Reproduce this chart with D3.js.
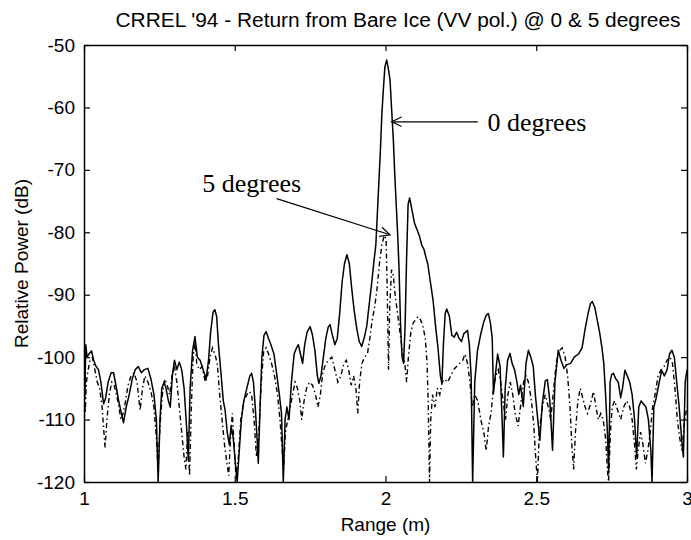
<!DOCTYPE html>
<html>
<head>
<meta charset="utf-8">
<script src="https://cdn.jsdelivr.net/npm/d3@7"></script>
<style>
  html, body { margin: 0; padding: 0; background: #fff; }
  svg { display: block; }
</style>
</head>
<body>
<svg id="chart" width="691" height="540"></svg>
<script>
// ---------- DATA ----------
const titleText = "CRREL '94 - Return from Bare Ice (VV pol.) @ 0 & 5 degrees";
const xLabel = "Range (m)";
const yLabel = "Relative Power (dB)";
const xTicks = [1, 1.5, 2, 2.5, 3];
const xTickLabels = ["1", "1.5", "2", "2.5", "3"];
const yTicks = [-50, -60, -70, -80, -90, -100, -110, -120];
const yTickLabels = ["-50", "-60", "-70", "-80", "-90", "-100", "-110", "-120"];
const seriesNames = ["0 degrees", "5 degrees"];

// 0 degrees (solid)
const range0 = [1.000,1.003,1.006,1.010,1.016,1.025,1.032,1.040,1.048,1.056,1.065,1.072,1.080,1.090,1.098,1.106,1.115,1.124,1.131,1.140,1.150,1.160,1.170,1.180,1.190,1.200,1.212,1.222,1.232,1.240,1.246,1.252,1.258,1.266,1.272,1.280,1.286,1.293,1.300,1.308,1.316,1.324,1.332,1.340,1.346,1.352,1.360,1.368,1.376,1.385,1.395,1.405,1.413,1.420,1.428,1.434,1.440,1.446,1.455,1.462,1.468,1.475,1.482,1.488,1.495,1.502,1.508,1.515,1.522,1.530,1.540,1.550,1.556,1.562,1.568,1.574,1.578,1.584,1.590,1.597,1.604,1.612,1.620,1.630,1.640,1.648,1.655,1.661,1.667,1.673,1.680,1.688,1.697,1.705,1.711,1.718,1.725,1.732,1.740,1.750,1.758,1.766,1.774,1.779,1.786,1.794,1.802,1.810,1.816,1.824,1.832,1.840,1.848,1.856,1.864,1.872,1.880,1.888,1.896,1.905,1.913,1.921,1.930,1.938,1.946,1.954,1.962,1.968,1.973,1.978,1.983,1.988,1.993,1.998,2.004,2.010,2.015,2.020,2.026,2.031,2.036,2.041,2.045,2.050,2.055,2.060,2.065,2.070,2.075,2.080,2.088,2.096,2.104,2.112,2.120,2.128,2.134,2.140,2.146,2.152,2.158,2.166,2.174,2.182,2.187,2.192,2.198,2.203,2.212,2.220,2.228,2.236,2.244,2.252,2.260,2.266,2.272,2.278,2.284,2.289,2.296,2.305,2.315,2.325,2.334,2.341,2.348,2.354,2.358,2.364,2.372,2.380,2.386,2.391,2.397,2.405,2.413,2.420,2.428,2.436,2.442,2.448,2.457,2.466,2.474,2.482,2.490,2.497,2.503,2.512,2.520,2.530,2.537,2.545,2.554,2.562,2.573,2.582,2.592,2.602,2.614,2.626,2.640,2.652,2.662,2.672,2.680,2.686,2.694,2.702,2.710,2.718,2.724,2.730,2.736,2.740,2.745,2.750,2.756,2.764,2.772,2.780,2.786,2.794,2.802,2.810,2.818,2.826,2.833,2.840,2.848,2.856,2.864,2.872,2.880,2.884,2.890,2.898,2.908,2.916,2.925,2.934,2.942,2.950,2.958,2.966,2.974,2.982,2.988,2.994,3.000];
const power0 = [-97,-106,-98,-100,-99.5,-99,-100.5,-101.5,-102,-104,-107.5,-106.5,-104,-102.5,-102.5,-104.5,-107,-109,-110.5,-108,-106,-103.5,-102,-101.5,-102.5,-102,-101.8,-103.5,-106,-110,-120,-110,-105,-104,-105,-107,-108,-103,-100.5,-102,-100.8,-102,-105,-111,-116.5,-105,-99,-96.7,-100,-100.5,-102,-103.5,-100.5,-96,-92.8,-92.4,-93.5,-98,-103,-107,-108.5,-112,-114,-111,-113,-117,-120,-115,-110,-107,-105,-103,-102.6,-104,-108,-113,-117,-108,-100,-96.5,-95.9,-97,-98,-99.5,-103,-106,-109,-120,-110,-108,-110,-104,-99.5,-98.5,-98,-99.5,-101,-98,-96,-95.1,-96.5,-99,-103,-104.2,-103,-100,-97,-95.2,-94.8,-96.5,-98,-97,-93,-88,-85,-83.6,-85,-89,-92.5,-95.5,-97.5,-98.3,-96.8,-95,-91.5,-88.2,-84.5,-82,-77,-72,-67,-61,-57,-53.5,-52.4,-54,-55.6,-60,-65.2,-71,-76,-81,-86,-95,-100,-101,-95,-84,-75.5,-74.5,-76.5,-78.5,-79.5,-80.5,-82,-82.8,-84,-85,-87,-89,-91,-95,-98.5,-103,-104.2,-98,-93,-92.3,-93.5,-96.5,-96.8,-96,-97,-97.5,-96.2,-96,-95.7,-98,-103,-120,-104,-99,-96.5,-94.5,-93.3,-93,-94.5,-97,-105.8,-103,-99.5,-101.5,-109,-116,-105,-100.5,-99.4,-101,-102,-104,-106,-104.5,-107.9,-101,-98.9,-100,-101.5,-106,-109,-113.3,-107.5,-103.8,-103.6,-107,-114.9,-104,-98.9,-100.5,-101.8,-101.2,-101,-100,-99.5,-98.5,-95.5,-93,-91.4,-91.1,-92,-94,-96,-98.5,-101,-106,-112,-118.6,-104,-102.8,-102.6,-103.5,-104,-106.5,-105,-102.1,-103,-104,-106,-110,-116,-108,-107,-107.5,-108,-110,-115,-120,-108,-106.5,-104,-102.1,-103,-102,-99.5,-98.9,-100,-104,-108,-113,-116,-104,-102];

// 5 degrees (dash-dot)
const range5 = [1.000,1.004,1.008,1.014,1.020,1.028,1.036,1.044,1.052,1.060,1.066,1.070,1.076,1.084,1.092,1.100,1.108,1.116,1.122,1.130,1.138,1.146,1.156,1.166,1.176,1.186,1.194,1.202,1.212,1.222,1.232,1.240,1.246,1.252,1.260,1.268,1.276,1.284,1.292,1.300,1.308,1.316,1.324,1.332,1.338,1.344,1.350,1.356,1.362,1.368,1.374,1.382,1.392,1.402,1.410,1.418,1.426,1.434,1.442,1.450,1.458,1.466,1.474,1.480,1.486,1.492,1.498,1.504,1.512,1.520,1.530,1.540,1.548,1.556,1.564,1.572,1.580,1.588,1.596,1.604,1.612,1.622,1.632,1.642,1.650,1.656,1.662,1.668,1.676,1.684,1.692,1.700,1.708,1.716,1.722,1.730,1.738,1.748,1.758,1.768,1.776,1.784,1.792,1.802,1.812,1.822,1.832,1.842,1.852,1.862,1.870,1.878,1.886,1.894,1.902,1.908,1.914,1.922,1.930,1.940,1.948,1.956,1.964,1.972,1.980,1.988,1.996,2.002,2.006,2.010,2.014,2.020,2.026,2.032,2.040,2.048,2.056,2.064,2.070,2.076,2.084,2.092,2.100,2.108,2.116,2.124,2.132,2.138,2.142,2.146,2.150,2.156,2.164,2.172,2.180,2.188,2.196,2.206,2.216,2.226,2.236,2.246,2.256,2.264,2.272,2.280,2.288,2.296,2.306,2.316,2.326,2.334,2.342,2.350,2.358,2.366,2.374,2.382,2.390,2.398,2.406,2.414,2.422,2.430,2.440,2.450,2.458,2.466,2.474,2.484,2.492,2.498,2.504,2.510,2.520,2.530,2.540,2.548,2.556,2.566,2.576,2.586,2.596,2.604,2.612,2.618,2.624,2.630,2.638,2.646,2.654,2.662,2.670,2.680,2.690,2.698,2.706,2.714,2.722,2.730,2.736,2.740,2.746,2.752,2.760,2.770,2.780,2.790,2.800,2.810,2.818,2.826,2.832,2.838,2.846,2.854,2.862,2.870,2.878,2.886,2.894,2.904,2.914,2.924,2.934,2.944,2.952,2.960,2.968,2.976,2.984,2.990,2.996,3.000];
const power5 = [-100,-109,-104,-102,-100.5,-100,-102,-104,-105,-108,-112,-114.5,-110,-106,-104,-104.5,-106,-108,-110,-109,-107,-104.5,-103,-102.5,-104,-108.5,-105,-103,-104,-105.5,-108,-113,-118,-111,-106,-103.5,-104.5,-106,-103,-101.5,-104,-108,-112,-116,-118,-112,-119,-108,-100,-97.5,-101,-102,-101.5,-104,-103,-100,-98.5,-99.5,-101,-106,-110,-114,-117,-119,-113,-109,-114,-119,-116,-110,-107,-106,-105.5,-106,-110,-116,-112,-104,-99,-98.5,-99.5,-101,-103,-106,-110,-114,-118,-112,-110,-108,-106,-104,-105,-107,-110,-107,-105,-104,-104.5,-106,-108,-106,-102.5,-101,-100.5,-100,-102,-104,-103,-101,-100.5,-102,-104.5,-103,-105,-109,-104,-101,-100,-99.5,-97,-94,-92,-89,-85,-82,-80.5,-81,-90,-102,-92,-86,-87,-90,-93,-96,-99,-101,-104,-100,-96,-94.5,-94,-93.5,-94,-95,-97,-101,-108,-120,-110,-106,-108,-105,-106,-104,-103.5,-104,-103,-102,-101.5,-101,-100.5,-99.5,-101,-104,-108,-106,-107,-110,-112,-115,-111,-109,-105,-103,-102,-104,-107,-110,-106,-104,-106,-109,-111,-107,-104,-103,-104,-107,-111,-116,-120,-112,-108,-106,-108,-110,-106,-101,-99,-98.5,-100,-103,-108,-114,-118,-112,-107,-105,-106.5,-108,-109,-107.5,-105.5,-108,-110,-109,-110,-113,-118,-120,-112,-108,-107,-108.5,-110,-108,-107,-108,-110,-114,-118,-115,-112,-114,-117,-115,-112,-108,-106,-103,-102,-101.5,-100.5,-100,-101,-105,-110,-113,-115,-111,-109,-108];

// annotations: label, arrow tip, arrow tail, text anchor (data units)
const annoLabels = ["0 degrees", "5 degrees"];
const annoTip = [[2.0206, -62.3], [2.015, -80.4]];
const annoTail = [[2.306, -62.3], [1.639, -74.6]];
const annoText = [[2.338, -63.8], [1.392, -73.55]];

// ---------- LAYOUT ----------
const W = 691, H = 540;
const m = { left: 84, right: 4, top: 45, bottom: 58 };
const svg = d3.select("#chart");
const font = "'Liberation Sans', Arial, Helvetica, sans-serif";
const serif = "'Liberation Serif', 'Times New Roman', Times, serif";

const x = d3.scaleLinear().domain([1, 3]).range([m.left, W - m.right]);
const y = d3.scaleLinear().domain([-120, -50]).range([H - m.bottom, m.top]);

svg.append("defs").append("clipPath").attr("id", "plotclip")
  .append("rect").attr("x", m.left).attr("y", m.top - 1)
  .attr("width", x(3) - m.left).attr("height", y(-120) - m.top + 2);

const line = d3.line().x(d => x(d[0])).y(d => y(d[1]));
const d0 = range0.map((r, i) => [r, power0[i]]);
const d5 = range5.map((r, i) => [r, power5[i]]);

const g = svg.append("g").attr("clip-path", "url(#plotclip)");
g.append("path").datum(d5).attr("d", line)
  .attr("fill", "none").attr("stroke", "#000").attr("stroke-width", 1.4)
  .attr("stroke-dasharray", "5,3,1.5,3");
g.append("path").datum(d0).attr("d", line)
  .attr("fill", "none").attr("stroke", "#000").attr("stroke-width", 1.5)
  .attr("stroke-linejoin", "round");

// Axes: box with inward ticks
const tickLen = 6;
const axB = svg.append("g").attr("transform", `translate(0,${y(-120)})`)
  .call(d3.axisBottom(x).tickValues(xTicks).tickFormat((d, i) => xTickLabels[i]).tickSizeInner(-tickLen).tickSizeOuter(0).tickPadding(10));
const axT = svg.append("g").attr("transform", `translate(0,${y(-50)})`)
  .call(d3.axisTop(x).tickValues(xTicks).tickFormat("").tickSizeInner(-tickLen).tickSizeOuter(0));
const axL = svg.append("g").attr("transform", `translate(${x(1)},0)`)
  .call(d3.axisLeft(y).tickValues(yTicks).tickFormat((d, i) => yTickLabels[i]).tickSizeInner(-tickLen).tickSizeOuter(0).tickPadding(9));
const axR = svg.append("g").attr("transform", `translate(${x(3)},0)`)
  .call(d3.axisRight(y).tickValues(yTicks).tickFormat("").tickSizeInner(-tickLen).tickSizeOuter(0));

[axB, axT, axL, axR].forEach(a => {
  a.selectAll("path.domain").attr("stroke", "#000").attr("stroke-width", 1.5);
  a.selectAll(".tick line").attr("stroke", "#000").attr("stroke-width", 1.2);
  a.selectAll("text").attr("fill", "#000").style("font-family", font).style("font-size", "19px");
});

// Title
svg.append("text").attr("x", 398).attr("y", 27)
  .attr("text-anchor", "middle").style("font-family", font).style("font-size", "20px")
  .attr("textLength", 565).attr("lengthAdjust", "spacingAndGlyphs")
  .attr("fill", "#000").text(titleText);

// Axis labels
svg.append("text").attr("x", (x(1) + x(3)) / 2).attr("y", 531)
  .attr("text-anchor", "middle").style("font-family", font).style("font-size", "19px")
  .attr("fill", "#000").text(xLabel);
svg.append("text").attr("transform", `translate(28,${(y(-50) + y(-120)) / 2}) rotate(-90)`)
  .attr("text-anchor", "middle").style("font-family", font).style("font-size", "19px")
  .attr("fill", "#000").text(yLabel);

// Annotations with open arrowheads
annoLabels.forEach((lab, i) => {
  const tx = x(annoTip[i][0]), ty = y(annoTip[i][1]);
  const sx = x(annoTail[i][0]), sy = y(annoTail[i][1]);
  svg.append("line").attr("x1", sx).attr("y1", sy).attr("x2", tx).attr("y2", ty)
    .attr("stroke", "#000").attr("stroke-width", 1.2);
  const ang = Math.atan2(ty - sy, tx - sx);
  const hl = 11, ha = 0.45;
  const p1 = [tx - hl * Math.cos(ang - ha), ty - hl * Math.sin(ang - ha)];
  const p2 = [tx - hl * Math.cos(ang + ha), ty - hl * Math.sin(ang + ha)];
  svg.append("path").attr("d", `M${p1[0]},${p1[1]}L${tx},${ty}L${p2[0]},${p2[1]}`)
    .attr("fill", "none").attr("stroke", "#000").attr("stroke-width", 1.2);
  svg.append("text").attr("x", x(annoText[i][0])).attr("y", y(annoText[i][1]))
    .style("font-family", serif).style("font-size", "26px").attr("fill", "#000").text(lab);
});
</script>
</body>
</html>
